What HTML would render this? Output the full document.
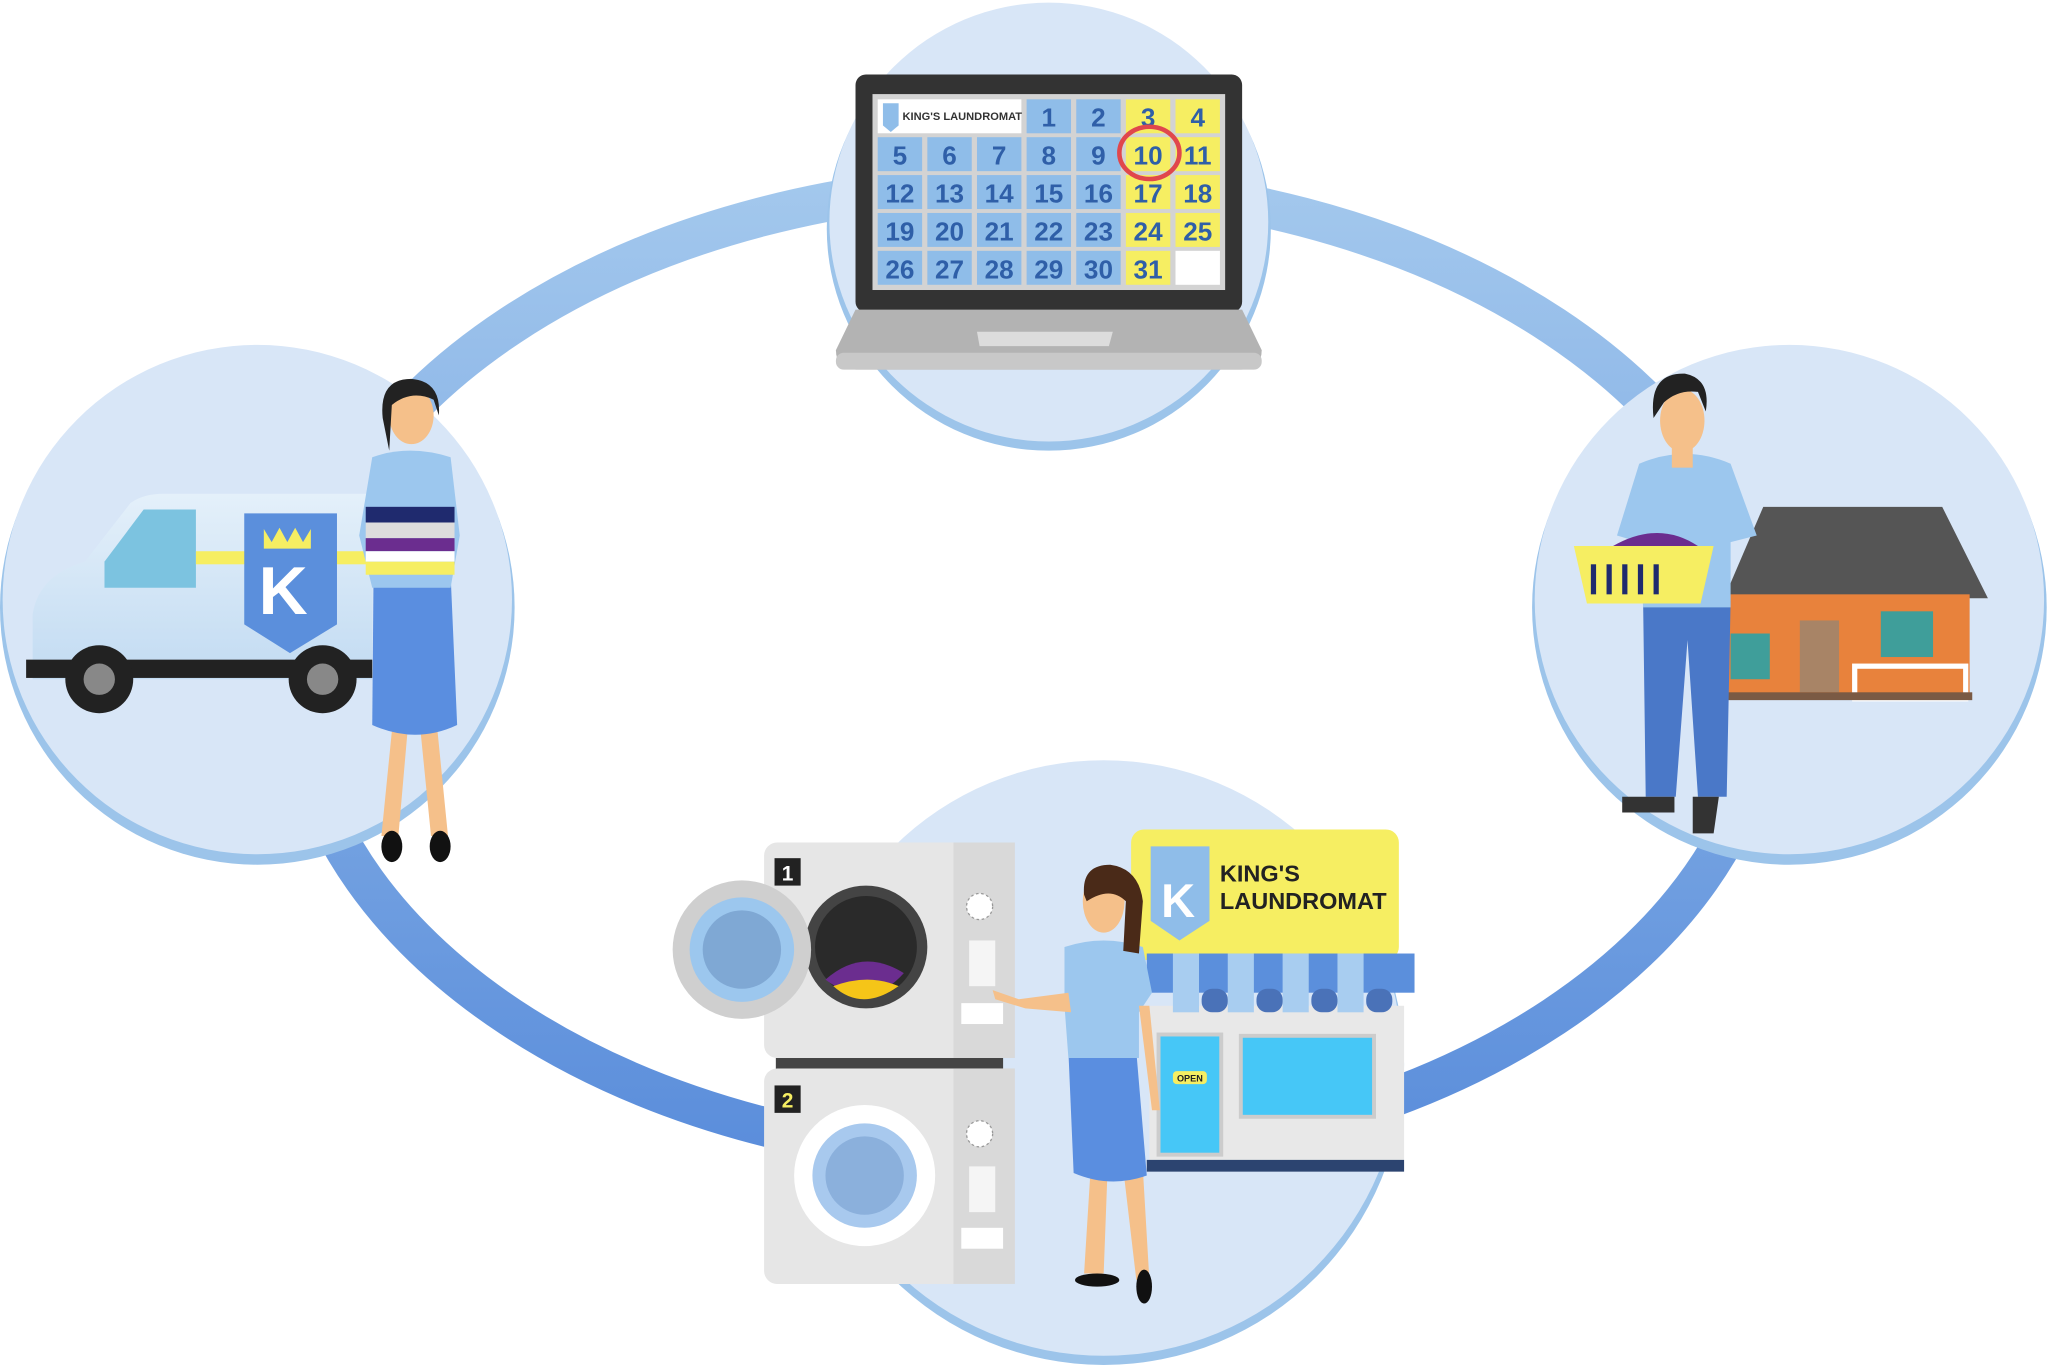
<!DOCTYPE html>
<html><head><meta charset="utf-8"><style>
html,body{margin:0;padding:0;background:#fff;}
svg{display:block;}
text{font-family:"Liberation Sans",sans-serif;font-weight:bold;}
</style></head><body>
<svg width="2048" height="1365" viewBox="0 0 1568 1045" xmlns="http://www.w3.org/2000/svg">
<defs>
<linearGradient id="ring" x1="0" y1="0" x2="0" y2="1">
<stop offset="0" stop-color="#a3c8ed"/><stop offset="1" stop-color="#5a8ddb"/></linearGradient>
<linearGradient id="van" x1="0" y1="0" x2="0" y2="1"><stop offset="0" stop-color="#e4f0fa"/><stop offset="1" stop-color="#c2dbf2"/></linearGradient>
</defs>
<rect width="1568" height="1045" fill="#fff"/>
<!-- ring -->
<ellipse cx="790" cy="514" rx="565" ry="374" fill="none" stroke="url(#ring)" stroke-width="30"/>
<!-- circles -->
<circle cx="803" cy="175" r="170" fill="#9cc4ea"/><circle cx="803" cy="170" r="168" fill="#d8e6f7"/>
<circle cx="197" cy="465" r="197" fill="#9cc4ea"/><circle cx="197" cy="459" r="195" fill="#d8e6f7"/>
<circle cx="1370" cy="465" r="197" fill="#9cc4ea"/><circle cx="1370" cy="459" r="195" fill="#d8e6f7"/>
<circle cx="845" cy="815" r="230" fill="#9cc4ea"/><circle cx="845" cy="810" r="228" fill="#d8e6f7"/>

<!-- laptop -->
<rect x="655" y="57" width="296" height="182" rx="8" fill="#333"/>
<rect x="668" y="72" width="270" height="150" fill="#d3d3d3"/>
<path d="M655 237 H951 L966 268 Q966 283 950 283 H656 Q640 283 640 268 Z" fill="#b3b3b3"/>
<rect x="640" y="270" width="326" height="13" rx="6" fill="#c8c8c8"/>
<path d="M748 254 H852 L849 265 H750 Z" fill="#dcdcdc"/>
<rect x="672" y="76" width="110" height="26" fill="#fff"/>
<path d="M676 79 H688 V96 L682 101 L676 96Z" fill="#8fbde9"/>
<text x="691" y="92" font-size="8.5" fill="#333">KING'S LAUNDROMAT</text>
<g font-size="20" text-anchor="middle" fill="#2f5fa8">
<rect x="786" y="76" width="34" height="26" fill="#8fbde9"/><text x="803" y="97">1</text>
<rect x="824" y="76" width="34" height="26" fill="#8fbde9"/><text x="841" y="97">2</text>
<rect x="862" y="76" width="34" height="26" fill="#f6ee62"/><text x="879" y="97">3</text>
<rect x="900" y="76" width="34" height="26" fill="#f6ee62"/><text x="917" y="97">4</text>
<rect x="672" y="105" width="34" height="26" fill="#8fbde9"/><text x="689" y="126">5</text>
<rect x="710" y="105" width="34" height="26" fill="#8fbde9"/><text x="727" y="126">6</text>
<rect x="748" y="105" width="34" height="26" fill="#8fbde9"/><text x="765" y="126">7</text>
<rect x="786" y="105" width="34" height="26" fill="#8fbde9"/><text x="803" y="126">8</text>
<rect x="824" y="105" width="34" height="26" fill="#8fbde9"/><text x="841" y="126">9</text>
<rect x="862" y="105" width="34" height="26" fill="#f6ee62"/><text x="879" y="126">10</text>
<rect x="900" y="105" width="34" height="26" fill="#f6ee62"/><text x="917" y="126">11</text>
<rect x="672" y="134" width="34" height="26" fill="#8fbde9"/><text x="689" y="155">12</text>
<rect x="710" y="134" width="34" height="26" fill="#8fbde9"/><text x="727" y="155">13</text>
<rect x="748" y="134" width="34" height="26" fill="#8fbde9"/><text x="765" y="155">14</text>
<rect x="786" y="134" width="34" height="26" fill="#8fbde9"/><text x="803" y="155">15</text>
<rect x="824" y="134" width="34" height="26" fill="#8fbde9"/><text x="841" y="155">16</text>
<rect x="862" y="134" width="34" height="26" fill="#f6ee62"/><text x="879" y="155">17</text>
<rect x="900" y="134" width="34" height="26" fill="#f6ee62"/><text x="917" y="155">18</text>
<rect x="672" y="163" width="34" height="26" fill="#8fbde9"/><text x="689" y="184">19</text>
<rect x="710" y="163" width="34" height="26" fill="#8fbde9"/><text x="727" y="184">20</text>
<rect x="748" y="163" width="34" height="26" fill="#8fbde9"/><text x="765" y="184">21</text>
<rect x="786" y="163" width="34" height="26" fill="#8fbde9"/><text x="803" y="184">22</text>
<rect x="824" y="163" width="34" height="26" fill="#8fbde9"/><text x="841" y="184">23</text>
<rect x="862" y="163" width="34" height="26" fill="#f6ee62"/><text x="879" y="184">24</text>
<rect x="900" y="163" width="34" height="26" fill="#f6ee62"/><text x="917" y="184">25</text>
<rect x="672" y="192" width="34" height="26" fill="#8fbde9"/><text x="689" y="213">26</text>
<rect x="710" y="192" width="34" height="26" fill="#8fbde9"/><text x="727" y="213">27</text>
<rect x="748" y="192" width="34" height="26" fill="#8fbde9"/><text x="765" y="213">28</text>
<rect x="786" y="192" width="34" height="26" fill="#8fbde9"/><text x="803" y="213">29</text>
<rect x="824" y="192" width="34" height="26" fill="#8fbde9"/><text x="841" y="213">30</text>
<rect x="862" y="192" width="34" height="26" fill="#f6ee62"/><text x="879" y="213">31</text>
<rect x="900" y="192" width="34" height="26" fill="#fff"/>
</g>
<ellipse cx="880" cy="117" rx="23" ry="20" fill="none" stroke="#e0474c" stroke-width="3.5"/>

<!-- van -->
<path d="M25 505 V470 Q30 440 65 430 L100 385 Q110 378 125 378 H285 V520 H25Z" fill="url(#van)"/>
<path d="M80 430 L110 390 H150 V450 H80Z" fill="#7cc3e0"/>
<rect x="150" y="422" width="135" height="10" fill="#f6ee62"/>
<rect x="20" y="505" width="265" height="14" fill="#222"/>
<circle cx="76" cy="520" r="26" fill="#222"/><circle cx="76" cy="520" r="12" fill="#888"/>
<circle cx="247" cy="520" r="26" fill="#222"/><circle cx="247" cy="520" r="12" fill="#888"/>
<path d="M187 393 H258 V478 L222 500 L187 478Z" fill="#5b8fdc"/>
<text x="198" y="470" font-size="52" fill="#fff">K</text>
<path d="M202 405 L208 415 L214 404 L220 415 L226 404 L232 415 L238 405 V420 H202Z" fill="#f6ee62"/>
<!-- left woman -->
<path d="M300 560 L292 640 H305 L312 560Z M322 560 L330 640 H343 L335 560Z" fill="#f5c08a"/>
<ellipse cx="300" cy="648" rx="8" ry="12" fill="#111"/><ellipse cx="337" cy="648" rx="8" ry="12" fill="#111"/>
<path d="M286 440 H345 L350 555 Q318 570 285 555Z" fill="#5a8ee0"/>
<path d="M285 350 Q313 340 345 350 L352 410 L345 450 H285 L275 410Z" fill="#9cc7ee"/>
<ellipse cx="315" cy="318" rx="17" ry="22" fill="#f5c08a"/>
<path d="M293 320 Q290 290 315 290 Q338 292 336 318 L332 306 Q315 298 300 310 L298 345 Z" fill="#222"/>
<rect x="280" y="388" width="68" height="12" fill="#1f2a6e"/>
<rect x="280" y="400" width="68" height="12" fill="#ddd"/>
<rect x="280" y="412" width="68" height="10" fill="#6b2d8f"/>
<rect x="280" y="422" width="68" height="8" fill="#fff"/>
<rect x="280" y="430" width="68" height="10" fill="#f6ee62"/>

<!-- right: house -->
<path d="M1350 388 H1487 L1522 458 H1320Z" fill="#555"/>
<rect x="1322" y="455" width="186" height="80" fill="#e8823c"/>
<rect x="1378" y="475" width="30" height="55" fill="#a88466"/>
<rect x="1440" y="468" width="40" height="35" fill="#3f9e9a"/>
<rect x="1325" y="485" width="30" height="35" fill="#3f9e9a"/>
<rect x="1420" y="510" width="85" height="25" fill="none" stroke="#fff" stroke-width="4"/>
<rect x="1320" y="530" width="190" height="6" fill="#7a5a44"/>
<!-- right man -->
<path d="M1258 460 H1325 L1322 610 H1300 L1292 490 L1283 610 H1260Z" fill="#4a78c8"/>
<path d="M1255 355 Q1290 340 1325 355 L1345 410 L1325 415 L1325 465 H1258 L1255 415 L1238 410Z" fill="#9cc7ee"/>
<ellipse cx="1288" cy="322" rx="17" ry="24" fill="#f5c08a"/>
<path d="M1266 320 Q1262 285 1290 286 Q1310 290 1306 315 L1300 300 Q1285 298 1274 308Z" fill="#222"/>
<rect x="1280" y="340" width="16" height="18" fill="#f5c08a"/>
<path d="M1205 418 H1312 L1302 462 H1215Z" fill="#f6ee62"/>
<g stroke="#1f2a6e" stroke-width="4"><line x1="1220" y1="432" x2="1220" y2="455"/><line x1="1232" y1="432" x2="1232" y2="455"/><line x1="1244" y1="432" x2="1244" y2="455"/><line x1="1256" y1="432" x2="1256" y2="455"/><line x1="1268" y1="432" x2="1268" y2="455"/></g>
<path d="M1235 418 Q1270 398 1300 418Z" fill="#6b2d8f"/>
<path d="M1242 610 H1282 V622 H1242Z M1296 610 H1316 L1312 638 H1296Z" fill="#333"/>

<!-- washers -->
<rect x="585" y="645" width="192" height="165" rx="10" fill="#e6e6e6"/>
<rect x="730" y="645" width="47" height="165" fill="#d9d9d9"/>
<rect x="594" y="810" width="174" height="9" fill="#444"/>
<rect x="585" y="818" width="192" height="165" rx="10" fill="#e6e6e6"/>
<rect x="730" y="818" width="47" height="165" fill="#d9d9d9"/>
<rect x="593" y="657" width="20" height="21" fill="#222"/><text x="603" y="674" font-size="16" fill="#fff" text-anchor="middle">1</text>
<rect x="593" y="831" width="20" height="21" fill="#222"/><text x="603" y="848" font-size="16" fill="#f6ee62" text-anchor="middle">2</text>
<circle cx="663" cy="725" r="47" fill="#444"/><circle cx="663" cy="725" r="39" fill="#2a2a2a"/>
<path d="M632 750 Q660 725 692 745 Q665 775 632 750Z" fill="#6b2d8f"/>
<path d="M638 755 Q665 745 688 755 Q660 775 638 755Z" fill="#f5c518"/>
<circle cx="568" cy="727" r="53" fill="#cfcfcf"/><circle cx="568" cy="727" r="40" fill="#9cc7ee"/><circle cx="568" cy="727" r="30" fill="#7fa8d4"/>
<circle cx="662" cy="900" r="54" fill="#fff"/><circle cx="662" cy="900" r="40" fill="#a8c9ee"/><circle cx="662" cy="900" r="30" fill="#8bb0dc"/>
<circle cx="750" cy="694" r="10" fill="#fff" stroke="#999" stroke-dasharray="2 2"/>
<circle cx="750" cy="868" r="10" fill="#fff" stroke="#999" stroke-dasharray="2 2"/>
<rect x="736" y="768" width="32" height="16" fill="#fff"/><rect x="736" y="940" width="32" height="16" fill="#fff"/>
<rect x="742" y="720" width="20" height="35" fill="#f5f5f5"/><rect x="742" y="893" width="20" height="35" fill="#f5f5f5"/>

<!-- store -->
<rect x="866" y="635" width="205" height="100" rx="10" fill="#f6ee62"/>
<path d="M881 648 H926 V705 L903 720 L881 705Z" fill="#8fbde9"/>
<text x="889" y="702" font-size="36" fill="#fff">K</text>
<text x="934" y="675" font-size="18" fill="#222">KING'S</text>
<text x="934" y="696" font-size="18" fill="#222">LAUNDROMAT</text>
<rect x="880" y="770" width="195" height="125" fill="#e8e8e8"/>
<rect x="878" y="730" width="205" height="30" fill="#5b8fdc"/>
<g fill="#a8cdf0"><rect x="898" y="730" width="20" height="45"/><rect x="940" y="730" width="20" height="45"/><rect x="982" y="730" width="20" height="45"/><rect x="1024" y="730" width="20" height="45"/></g>
<g fill="#4a72b8"><rect x="920" y="757" width="20" height="18" rx="8"/><rect x="962" y="757" width="20" height="18" rx="8"/><rect x="1004" y="757" width="20" height="18" rx="8"/><rect x="1046" y="757" width="20" height="18" rx="8"/></g>
<rect x="887" y="792" width="48" height="92" fill="#46c7f7" stroke="#ccc" stroke-width="3"/>
<rect x="898" y="820" width="26" height="10" rx="3" fill="#f6ee62"/><text x="911" y="828" font-size="7" fill="#222" text-anchor="middle">OPEN</text>
<rect x="950" y="793" width="102" height="62" fill="#46c7f7" stroke="#ccc" stroke-width="3"/>
<rect x="878" y="888" width="197" height="9" fill="#2c4470"/>
<!-- bottom woman -->
<path d="M835 895 L830 975 H845 L848 895Z M860 895 L870 980 H880 L875 895Z" fill="#f5c08a"/>
<ellipse cx="840" cy="980" rx="17" ry="5" fill="#111"/><ellipse cx="876" cy="985" rx="6" ry="13" fill="#111"/>
<path d="M818 805 H870 L878 900 Q850 910 822 898Z" fill="#5a8ee0"/>
<path d="M815 725 Q845 715 875 725 L882 760 L872 775 V810 H818 L815 770Z" fill="#9cc7ee"/>
<path d="M818 760 L780 765 L760 758 L762 765 L785 772 L820 775Z" fill="#f5c08a"/>
<path d="M872 770 L882 850 L888 850 L880 770Z" fill="#f5c08a"/>
<ellipse cx="845" cy="690" rx="16" ry="24" fill="#f5c08a"/>
<path d="M830 685 Q828 662 850 662 Q872 665 875 690 L872 730 L860 728 L862 690 Q850 678 832 690Z" fill="#4a2a18"/>
</svg>
</body></html>
